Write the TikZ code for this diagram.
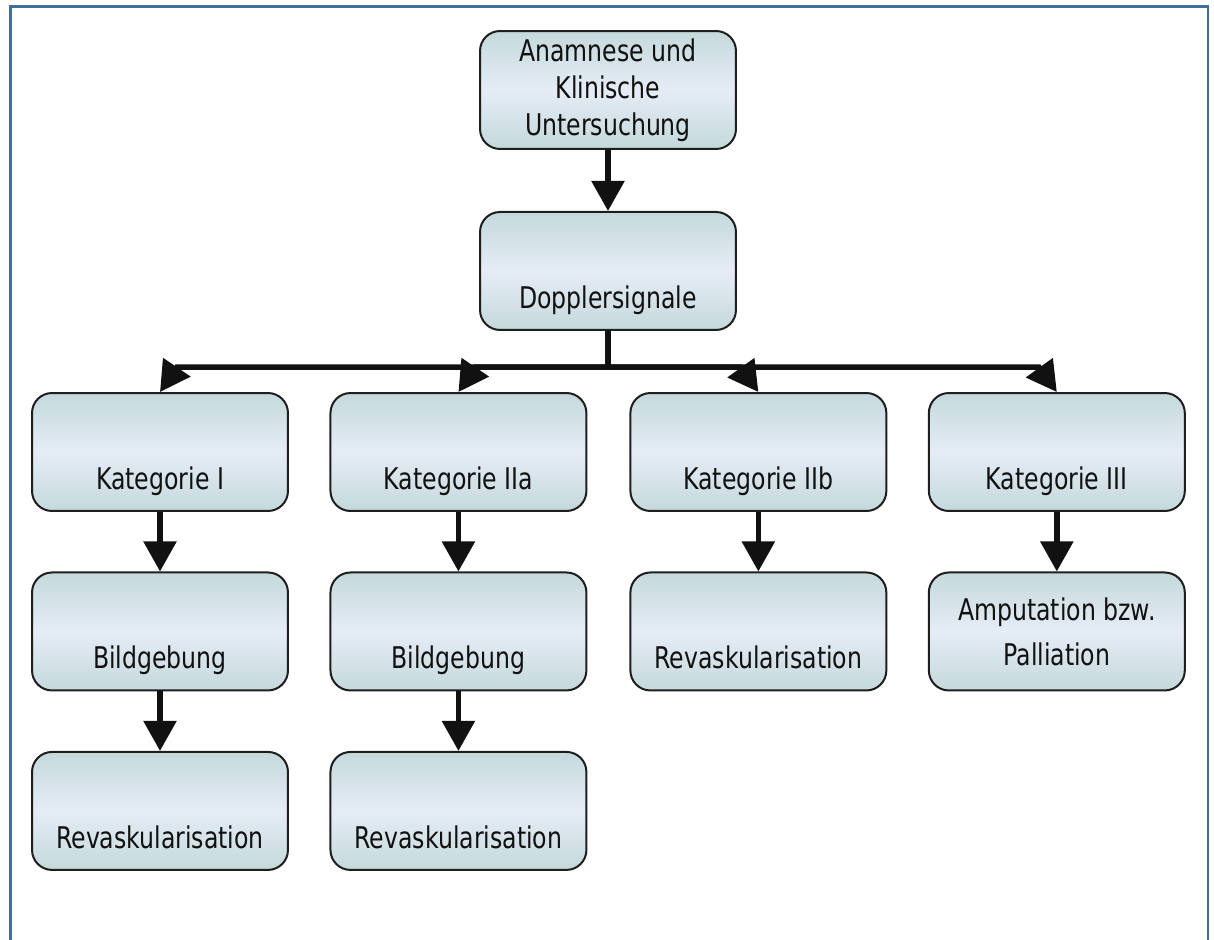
\documentclass[tikz,border=0pt]{standalone}
\usepackage{fontspec}
\setmainfont{DejaVu Sans}[FakeStretch=0.79]
\usetikzlibrary{arrows.meta,positioning,calc}
\definecolor{ink}{HTML}{111111}
\definecolor{framecol}{HTML}{3F6F98}
\definecolor{boxline}{HTML}{1E1E1E}
\definecolor{boxedge}{HTML}{C4D9DB}
\definecolor{boxmid}{HTML}{E6ECF6}

\begin{document}
\begin{tikzpicture}[x=0.02cm,y=-0.02cm,>={Triangle[width=6.4mm,length=6mm]},
  b/.style={draw=boxline,line width=.4mm,rounded corners=4mm,minimum width=51.2mm,
    minimum height=23.6mm,align=center,inner sep=2pt,text=ink,
    font=\fontsize{17pt}{21pt}\selectfont,
    top color=boxedge,bottom color=boxedge,middle color=boxmid},
  low/.style={text height=17mm,text depth=2mm},
  flow/.style={->,draw=ink,line width=1.1mm}]

\useasboundingbox (0,0) rectangle (1214,940);
\draw[draw=framecol,line width=.5mm] (10.5,940) -- (10.5,6.5) -- (1208,6.5) -- (1208,940);

% ============ TOP : history + doppler ============
\node[b] (ana) at (608,90) {Anamnese und\\Klinische\\Untersuchung};
\node[b,low,below=12.2mm of ana] (dop) {Dopplersignale};

% ============ ROW 1 : categories ============
\node[b,low] (k1) at (160,452) {Kategorie I};
\node[b,low,right=8.1mm of k1] (k2) {Kategorie IIa};
\node[b,low,right=8.4mm of k2] (k3) {Kategorie IIb};
\node[b,low,right=8.1mm of k3] (k4) {Kategorie III};

% ============ ROW 2 + 3 : next steps ============
\node[b,low,below=11.9mm of k1] (bg1) {Bildgebung};
\node[b,low,below=11.9mm of k2] (bg2) {Bildgebung};
\node[b,low,below=11.9mm of k3] (rv3) {Revaskularisation};
\node[b,below=11.9mm of k4] (amp) {Amputation bzw.\\[1.6mm]Palliation};
\node[b,low,below=11.9mm of bg1] (rv1) {Revaskularisation};
\node[b,low,below=11.9mm of bg2] (rv2) {Revaskularisation};

% branches from the doppler box
\foreach \k/\s in {k1/17,k2/17,k3/-18,k4/-18}
  \draw[flow] (dop.south) |- ($(\k.north)+(\s,-25)$) -- (\k.north);
\foreach \a/\b in {ana/dop,k1/bg1,bg1/rv1,k2/bg2,bg2/rv2,k3/rv3,k4/amp}\draw[flow] (\a)--(\b);

\end{tikzpicture}
\end{document}
